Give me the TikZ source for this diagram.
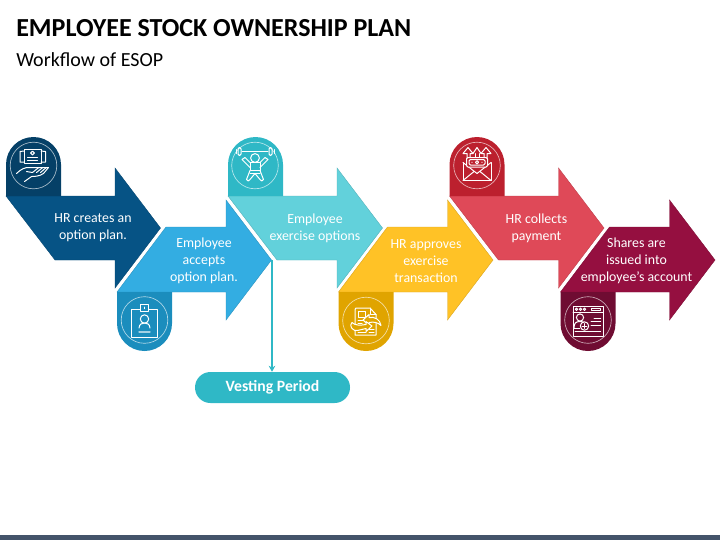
\documentclass[tikz,border=0pt]{standalone}
\usepackage{fontspec}
\setmainfont{Carlito}
\usetikzlibrary{arrows.meta}
\definecolor{aone}{HTML}{065385}\definecolor{tone}{HTML}{054067}
\definecolor{atwo}{HTML}{33ADE2}\definecolor{ttwo}{HTML}{1B8DBD}
\definecolor{athree}{HTML}{62D1DB}\definecolor{tthree}{HTML}{2FB8C6}
\definecolor{afour}{HTML}{FFC226}\definecolor{tfour}{HTML}{E0A400}
\definecolor{afive}{HTML}{DF4958}\definecolor{tfive}{HTML}{BC202E}
\definecolor{asix}{HTML}{950F40}\definecolor{tsix}{HTML}{6F0C32}
\definecolor{barcol}{HTML}{44546A}
\tikzset{
  x=.75pt,y=-.75pt,
  steptext/.style={text=white,align=center,font=\fontsize{10.4}{12.9}\selectfont,inner sep=0pt},
  ring/.style={draw=white,draw opacity=.65,line width=.5pt},
  ico/.style={draw=white,line width=.75pt,line join=round,line cap=round},
}
\newcommand{\downarrowshape}[2]{% arrow with the notch falling to the right; origin at top-left
  \fill[fill=#2,draw=#2!85!black,line width=.3pt,shift={#1}] (0,0)--(109,0)--(109,-28)--(154.5,32)--(109,92)--(109,64)--(49,64)--cycle;}
\newcommand{\uparrowshape}[2]{% origin at bottom-left
  \fill[fill=#2,draw=#2!85!black,line width=.3pt,shift={#1}] (0,0)--(49,-65)--(109,-65)--(109,-92)--(154.5,-32)--(109,28)--(109,0)--cycle;}
\newcommand{\tabfill}[2]{%
  (-27.5,#1)--(-27.5,0) .. controls (-27.5,#2*15.2) and (-15.2,#2*27.5) .. (0,#2*27.5) .. controls (15.2,#2*27.5) and (27.5,#2*15.2) .. (27.5,0)--(27.5,#1)--cycle}
\begin{document}
\begin{tikzpicture}
\useasboundingbox (0,0) rectangle (720,540);
\fill[barcol] (0,535) rectangle (720,540);

\node[anchor=west,inner sep=0pt,font=\fontsize{19.5}{23}\selectfont\bfseries] (title) at (16,28) {EMPLOYEE STOCK OWNERSHIP PLAN};
\node[anchor=west,inner sep=0pt,font=\fontsize{15}{18}\selectfont] (sub) at (16,59.5) {Workflow of ESOP};

% arrows
\downarrowshape{(6,196)}{aone}
\uparrowshape{(117,292)}{atwo}
\downarrowshape{(228,196)}{athree}
\uparrowshape{(338.5,292)}{afour}
\downarrowshape{(449.5,196)}{afive}
\uparrowshape{(560.5,292)}{asix}

% tabs
\fill[tone,shift={(33.5,164.5)}] \tabfill{31.5}{-1};
\fill[ttwo,shift={(144.5,323.5)}] \tabfill{-31.5}{1};
\fill[tthree,shift={(255.5,164.5)}] \tabfill{31.5}{-1};
\fill[tfour,shift={(366,323.5)}] \tabfill{-31.5}{1};
\fill[tfive,shift={(477,164.5)}] \tabfill{31.5}{-1};
\fill[tsix,shift={(588,323.5)}] \tabfill{-31.5}{1};

% icon 1: open book over a hand
\begin{scope}[shift={(33.5,165.5)}]
\draw[ring] (0,0) circle (23.3);
\draw[ico] (-9.5,-16.5) rectangle (7.5,-2);
\draw[ico] (-9.5,-14.5)--(-13.5,-14)--(-13.5,-3.5)--(-9.5,-3.5);
\draw[ico] (7.5,-14.5)--(12,-14)--(12,-3.5)--(7.5,-3.5);
\draw[ico] (-1,-12.5) circle (1.9);
\draw[ico] (-6,-8.5)--(4,-8.5) (-6,-5)--(4,-5);
\draw[ico] (-17,8) .. controls (-12,3) and (-8,2) .. (-5,2) -- (15,2) -- (10,8) .. controls (6,11) and (0,11) .. (-2,11) -- (-9,16);
\draw[ico] (-1,7)--(5,2.2) (3,7)--(9,2.2) (7,7)--(12.5,2.2) (-7,6)--(-1,7);
\end{scope}

% icon 2: id badge
\begin{scope}[shift={(144.5,320)}]
\draw[ring] (0,0) circle (23.3);
\draw[ico] (-13,-11) rectangle (13,17);
\draw[ico,fill=ttwo] (-4,-16) rectangle (4,-9);
\draw[ico] (0,-13)--(0,-11.5);
\draw[ico] (0,-1) circle (4.2);
\draw[ico] (-5.5,8) .. controls (-5,4) and (-3,3) .. (0,3) .. controls (3,3) and (5,4) .. (5.5,8);
\draw[ico,draw opacity=.6,line width=1pt] (-5.5,12)--(5.5,12);
\end{scope}

% icon 3: weightlifter
\begin{scope}[shift={(255,165.5)}]
\draw[ring] (0,0) circle (23.3);
\draw[ico] (-13,-14)--(13,-14);
\draw[ico,rounded corners=1pt] (-17,-18) rectangle (-14,-10);
\draw[ico,rounded corners=1pt] (14,-18) rectangle (17,-10);
\draw[ico] (-19,-16)--(-19,-12) (19,-16)--(19,-12);
\draw[ico] (0,-7.5) circle (4.4);
\draw[ico] (-5,-3)--(5,-3)--(5,5)--(-5,5)--cycle;
\draw[ico] (-5,-3)--(-10,-8)--(-13,-6)--(-5,2);
\draw[ico] (5,-3)--(10,-8)--(13,-6)--(5,2);
\draw[ico] (-5,5)--(-8.5,14) .. controls (-8,16) and (-5.5,16) .. (-5,14)--(0,8)--(5,14) .. controls (5.5,16) and (8,16) .. (8.5,14)--(5,5);
\draw[ico] (-5,8)--(5,8);
\end{scope}

% icon 4: document with two curved arrows
\begin{scope}[shift={(366,320.5)}]
\draw[ring] (0,0) circle (23.3);
\draw[ico] (-11,-11) .. controls (-11,-12) .. (-10,-12.5)--(4,-12.5)--(10,-6)--(10,14.5)--(-11,14.5)--cycle;
\draw[ico] (4,-12.5)--(4,-6)--(10,-6);
\draw[ico] (-8,-9) rectangle (-1,-3);
\draw[ico] (-8,0)--(-2,0) (-8,3)--(-4,3) (3,9)--(8,9) (3,12)--(8,12) (-8,12)--(0,12);
\draw[ico,fill=tfour] (-3,-0.5)--(3,-6)--(3,-3) .. controls (9,-4) and (14,-1) .. (15,5) .. controls (12,2) and (8,1) .. (3,2)--(3,5)--cycle;
\draw[ico,fill=tfour] (6,5.5)--(0,11)--(0,8) .. controls (-6,9) and (-11,12) .. (-14,8) .. controls (-16,5) and (-15,3) .. (-14,2) .. controls (-11,5) and (-6,5) .. (0,4)--(0,1)--cycle;
\end{scope}

% icon 5: envelope with banknote and up arrows
\begin{scope}[shift={(477,165.5)}]
\draw[ring] (0,0) circle (23.3);
\draw[ico] (-14,-3)--(-14,15)--(14,15)--(14,-3);
\draw[ico] (-14,-3)--(0,8)--(14,-3);
\draw[ico] (-14,15)--(-3,6) (14,15)--(3,6);
\draw[ico] (-10,-6)--(-10,-12)--(-14,-12)--(-9,-18)--(-4,-12)--(-7,-12)--(-7,-8);
\draw[ico] (-4,-12)--(0,-18)--(4,-12);
\draw[ico] (-2,-12)--(-2,-8) (2,-12)--(2,-8);
\draw[ico] (10,-6)--(10,-12)--(14,-12)--(9,-18)--(4,-12)--(7,-12)--(7,-8);
\draw[ico,fill=tfive,rounded corners=1pt] (-10.5,-8) rectangle (10.5,1.5);
\draw[ico,rounded corners=1pt] (-8,-6) rectangle (8,-.5);
\draw[ico] (0,-3.2) circle (1.6);
\fill[white] (-5,-3.2) circle (.6) (5,-3.2) circle (.6);
\end{scope}

% icon 6: browser window with a user
\begin{scope}[shift={(588,320)}]
\draw[ring] (0,0) circle (23.3);
\draw[ico] (-15,-14) rectangle (15,16);
\draw[ico] (-15,-7.5)--(15,-7.5);
\draw[ico] (-11.5,-10.8) circle (1.2) (-7.5,-10.8) circle (1.2) (-3.5,-10.8) circle (1.2);
\draw[ico] (3,-12) rectangle (12.5,-9.5);
\draw[ico] (-8,-2.5) circle (3.6);
\draw[ico] (-14,8) .. controls (-14,3) and (-12,1.5) .. (-8,1.5) .. controls (-6,1.5) and (-4,2) .. (-3,3);
\draw[ico] (-14,8)--(-8.5,8);
\draw[ico,fill=tsix] (-3.5,6) circle (4.2);
\draw[ico] (-5.8,6)--(-1.2,6) (-3.5,3.7)--(-3.5,8.3);
\draw[ico] (6,-2)--(12.5,-2) (3,1.5)--(12.5,1.5) (3,5)--(12.5,5) (-13,11.5)--(12.5,11.5);
\end{scope}

% labels
\node[steptext] (one) at (93,228) {HR creates an\\option plan.};
\node[steptext] (two) at (204,261) {Employee\\accepts\\option plan.};
\node[steptext] (three) at (315,228) {Employee\\exercise options};
\node[steptext] (four) at (426,261) {HR approves\\exercise\\transaction};
\node[steptext] (five) at (536.5,228) {HR collects\\payment};
\node[steptext] (six) at (636.5,261) {Shares are\\issued into\\employee’s account};

% vesting
\node[fill=tthree,text=white,rounded corners=11.6pt,minimum width=116.25pt,minimum height=23.25pt,inner sep=0pt,font=\fontsize{11.8}{13}\selectfont\bfseries] (vest) at (272.5,387.5) {Vesting Period};
\coordinate (apex) at (272,260);
\draw[tthree,line width=1.1pt,-{Stealth[length=4.5pt,width=5pt]}] (apex)--(apex |- vest.north);
\end{tikzpicture}
\end{document}
